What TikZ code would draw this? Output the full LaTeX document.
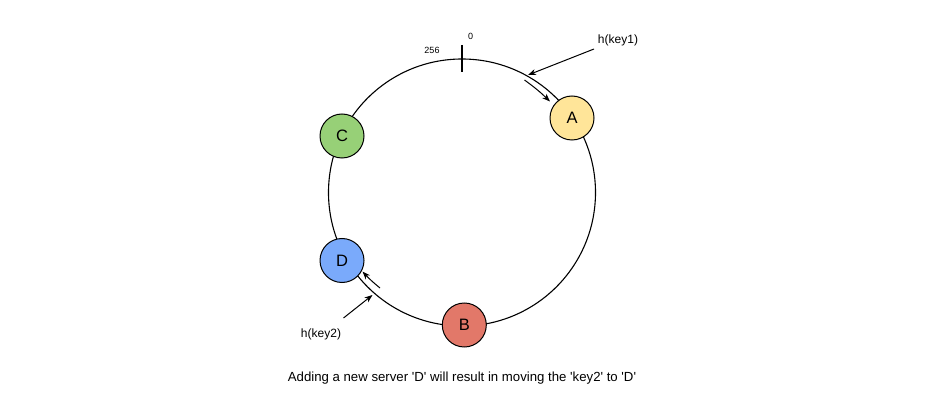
\documentclass[tikz,border=0pt]{standalone}
\usepackage{fontspec}
\setmainfont{Liberation Sans}[Ligatures=TeXOff]
\usetikzlibrary{arrows.meta}
\definecolor{cA}{HTML}{FFE599}
\definecolor{cB}{HTML}{E27869}
\definecolor{cC}{HTML}{97D077}
\definecolor{cD}{HTML}{7AAAFB}
\tikzset{
  server/.style={circle, draw=black, line width=1pt, minimum size=44pt, inner sep=0pt, font=\fontsize{16.5}{16.5}\selectfont},
  arr/.style={-{Stealth[length=8pt,width=6pt,inset=2.5pt]}, line width=1pt},
  lbl/.style={font=\fontsize{12}{12}\selectfont, inner sep=0pt},
  caplbl/.style={font=\fontsize{13.2}{13.2}\selectfont, inner sep=0pt},
  small/.style={font=\fontsize{9}{9}\selectfont, inner sep=0pt}
}
\begin{document}
\begin{tikzpicture}[x=1pt,y=-1pt]
\useasboundingbox (0,0) rectangle (938,414);
\coordinate (ctr) at (462,192.5);
\draw[line width=1.1pt] (ctr) circle[radius=133.5];
\coordinate (t1) at (462,45);
\coordinate (t2) at (462,72);
\draw[line width=1.1pt] (t1) -- (t2);
\node[small] (zero) at (470.5,36) {0};
\node[small] (n256) at (432,50.5) {256};
\node[server, fill=cA] (A) at (572,118) {A};
\node[server, fill=cC] (C) at (342,136) {C};
\node[server, fill=cD] (D) at (342,260.5) {D};
\node[server, fill=cB] (B) at (464.3,325) {B};
\node[lbl] (hk1) at (618,40) {h(key1)};
\node[lbl] (hk2) at (321,334.5) {h(key2)};
\coordinate (k1s) at (594,49);
\coordinate (k1e) at (528,75);
\draw[arr] (k1s) -- (k1e);
\coordinate (k2s) at (343.5,318);
\coordinate (k2e) at (372.5,295);
\draw[arr] (k2s) -- (k2e);
\coordinate (aas) at (524.5,80);
\coordinate (aae) at (550,101.5);
\draw[arr] (aas) to[bend left=4] (aae);
\coordinate (das) at (380,288);
\coordinate (dae) at (362.5,271.5);
\draw[arr] (das) to[bend left=4] (dae);
\node[caplbl] (cap) at (462,378) {Adding a new server 'D' will result in moving the 'key2' to 'D'};
\end{tikzpicture}
\end{document}
